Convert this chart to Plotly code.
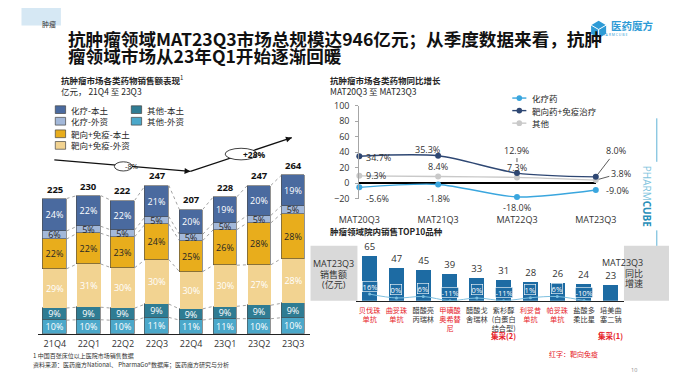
import plotly.graph_objects as go

# ---------------- data ----------------
quarters = ["21Q4", "22Q1", "22Q2", "22Q3", "22Q4", "23Q1", "23Q2", "23Q3"]
quarter_totals = [225, 230, 222, 247, 207, 228, 247, 264]
other_foreign_pct = [10, 10, 10, 11, 11, 11, 10, 10]
other_local_pct = [9, 9, 9, 9, 9, 9, 9, 9]
ti_foreign_pct = [29, 31, 30, 30, 30, 30, 27, 28]
ti_local_pct = [22, 22, 23, 24, 25, 26, 28, 28]
chemo_foreign_pct = [6, 5, 5, 5, 5, 5, 5, 5]
chemo_local_pct = [24, 22, 22, 21, 20, 19, 20, 19]

mat_periods = ["MAT20Q3", "MAT21Q3", "MAT22Q3", "MAT23Q3"]
growth_chemo = [-5.6, -1.8, -18.0, -9.0]
growth_target = [34.7, 35.3, 12.9, 8.0]
growth_other = [9.3, 8.4, 7.3, 3.8]

top10_drugs = ["贝伐珠单抗", "曲妥珠单抗", "醋酸亮丙瑞林", "甲磺酸奥希替尼", "醋酸戈舍瑞林",
               "紫杉醇(白蛋白结合型)", "利妥昔单抗", "帕妥珠单抗", "盐酸多柔比星", "培美曲塞二钠"]
top10_label_lines = [["贝伐珠", "单抗"], ["曲妥珠", "单抗"], ["醋酸亮", "丙瑞林"], ["甲磺酸", "奥希替", "尼"],
                     ["醋酸戈", "舍瑞林"], ["紫杉醇", "(白蛋白", "结合型)"], ["利妥昔", "单抗"],
                     ["帕妥珠", "单抗"], ["盐酸多", "柔比星"], ["培美曲", "塞二钠"]]
top10_sales = [65, 47, 45, 39, 33, 31, 28, 26, 24, 23]
top10_growth = [16, 0, 6, -11, 0, -11, 1, 6, -10, -24]
top10_targeted = [1, 1, 0, 1, 0, 0, 1, 1, 0, 0]
vbp_notes = {5: "集采(2)", 9: "集采(1)"}

# ---------------- helpers ----------------
# page body has an 8px margin: the figure sits at (8, 8) and fills the rest of the window
OX, OY = 8, 8
FW, FH = 690 - OX, 388 - OY
def px(x): return (x - OX) / FW
def py(y): return 1 - (y - OY) / FH

FONT = "Open Sans, Noto Sans CJK SC, sans-serif"
CJK = "Noto Sans CJK SC, sans-serif"
RED = "#E62129"
DARK = "#262626"

fig = go.Figure()
shapes = []
ann = []

# ---------------- left stacked bars ----------------
series = [
    ("其他-外资", other_foreign_pct, "#4BA8CA", "white", 0.6),
    ("其他-本土", other_local_pct, "#2F7C93", "white", 0.6),
    ("靶向+免疫-外资", ti_foreign_pct, "#F2D391", "white", 0.0),
    ("靶向+免疫-本土", ti_local_pct, "#E8AD1C", DARK, 0.6),
    ("化疗-外资", chemo_foreign_pct, "#A3B8D9", DARK, 0.6),
    ("化疗-本土", chemo_local_pct, "#4A6A9F", "white", 0.6),
]
n = len(quarters)
xs = list(range(n))
sums = [sum(s[1][i] for s in series) for i in range(n)]
bw = 0.69
cum = [[0.0] * n]
for name, pcts, color, tcol, lw in series:
    seg = [quarter_totals[i] * pcts[i] / sums[i] for i in range(n)]
    cum.append([cum[-1][i] + seg[i] for i in range(n)])
    fig.add_trace(go.Bar(
        x=xs, y=seg, width=bw, name=name,
        marker=dict(color=color, line=dict(color="#4a4a4a", width=lw)),
        text=[f"{p}%" for p in pcts], textposition="inside", insidetextanchor="middle",
        textangle=0, constraintext="none", textfont=dict(size=9, color=tcol, family=FONT),
        xaxis="x", yaxis="y", showlegend=False, hoverinfo="skip"))

# connectors between bars
for k in range(1, len(cum)):
    for i in range(n - 1):
        shapes.append(dict(type="line", xref="x", yref="y",
                           x0=i + bw / 2, y0=cum[k][i], x1=i + 1 - bw / 2, y1=cum[k][i + 1],
                           line=dict(color="#8a8a8a", width=0.8, dash="dot")))
# totals
for i, t in enumerate(quarter_totals):
    ann.append(dict(x=i, y=t, xref="x", yref="y", text=f"<b>{t}</b>", showarrow=False,
                    yanchor="bottom", yshift=1, font=dict(size=9.5, color="#111", family=FONT)))

# legend (left)
leg_items = [
    (series[5][0], series[5][2], 36, 106), (series[4][0], series[4][2], 36, 118),
    (series[3][0], series[3][2], 36, 131), (series[2][0], series[2][2], 36, 143),
    (series[1][0], series[1][2], 117, 106), (series[0][0], series[0][2], 117, 118),
]
for name, color, x0, yc in leg_items:
    shapes.append(dict(type="rect", xref="paper", yref="paper", x0=px(x0), x1=px(x0 + 11),
                       y0=py(yc + 4), y1=py(yc - 4), fillcolor=color, line=dict(color="#444", width=0.7)))
    ann.append(dict(x=px(x0 + 15), y=py(yc), xref="paper", yref="paper", text=name, showarrow=False,
                    xanchor="left", yanchor="middle", font=dict(size=8.5, color=DARK, family=CJK)))

# titles (left)
ann.append(dict(x=px(40), y=py(75), xref="paper", yref="paper", text="<b>抗肿瘤市场各类药物销售额表现</b><sup>1</sup>",
                showarrow=False, xanchor="left", yanchor="middle", font=dict(size=8.5, color=DARK, family=CJK)))
ann.append(dict(x=px(40), y=py(86.5), xref="paper", yref="paper", text="亿元， 21Q4 至 23Q3",
                showarrow=False, xanchor="left", yanchor="middle", font=dict(size=8.5, color=DARK, family=CJK)))

# trend arrows: lines as shapes, small arrowheads as annotations, ellipses on top
for (x0, y0), (x1, y1) in [((35, 158), (180, 170)), ((180, 170), (288, 135))]:
    shapes.append(dict(type="line", xref="paper", yref="paper", x0=px(x0), y0=py(y0), x1=px(x1), y1=py(y1),
                       line=dict(color="#111", width=1.3)))
    dx, dy = x1 - x0, y1 - y0
    L = (dx * dx + dy * dy) ** 0.5
    ann.append(dict(x=px(x1), y=py(y1), xref="paper", yref="paper", ax=-dx / L * 8, ay=-dy / L * 8,
                    axref="pixel", ayref="pixel", text=" ", showarrow=True, arrowhead=2, arrowsize=0.9,
                    arrowwidth=1.3, arrowcolor="#111"))
shapes.append(dict(type="circle", xref="paper", yref="paper", x0=px(99), x1=px(118), y0=py(169.5), y1=py(160),
                   fillcolor="white", line=dict(color="#111", width=0.8)))
shapes.append(dict(type="circle", xref="paper", yref="paper", x0=px(217), x1=px(251), y0=py(158), y1=py(146),
                   fillcolor="white", line=dict(color="#111", width=0.8)))
ann.append(dict(x=px(108.5), y=py(164.8), xref="paper", yref="paper", text="-8%", showarrow=False,
                font=dict(size=7.5, color="#111", family=FONT)))
ann.append(dict(x=px(234), y=py(152), xref="paper", yref="paper", text="<b>+28%</b>", showarrow=False,
                font=dict(size=8.5, color="#111", family=FONT)))

# ---------------- line chart (top right) ----------------
line_series = [
    ("其他", growth_other, "#C9C9C9"),
    ("靶向药+免疫治疗", growth_target, "#2E4773"),
    ("化疗药", growth_chemo, "#3AA6DE"),
]
mx = list(range(len(mat_periods)))
for name, vals, color in line_series:
    fig.add_trace(go.Scatter(x=mx, y=vals, mode="lines+markers", name=name,
                             line=dict(color=color, width=1.4, shape="spline", smoothing=0.8),
                             marker=dict(size=6, color=color), cliponaxis=False,
                             xaxis="x2", yaxis="y2", showlegend=False, hoverinfo="skip"))

def lab(x, y, text, **kw):
    d = dict(x=x, y=y, xref="x2", yref="y2", text=text, showarrow=False,
             font=dict(size=9, color="#333", family=FONT))
    d.update(kw)
    ann.append(d)

f = lambda v: f"{v:.1f}%"
# targeted
lab(0, growth_target[0], f(growth_target[0]), xanchor="left", xshift=5, yshift=-1)
lab(1, growth_target[1], f(growth_target[1]), xshift=-11, yshift=6)
lab(2, growth_target[2], f(growth_target[2]), showarrow=True, ax=0, ay=-23, arrowhead=0,
    arrowwidth=0.8, arrowcolor="#333", standoff=11)
lab(3, growth_target[3], f(growth_target[3]), showarrow=True, ax=20, ay=-26, arrowhead=0,
    arrowwidth=0.8, arrowcolor="#333", standoff=3)
# other
lab(0, growth_other[0], f(growth_other[0]), xanchor="left", xshift=5, yshift=0)
lab(1, growth_other[1], f(growth_other[1]), yshift=10)
lab(2, growth_other[2], f(growth_other[2]), yshift=10)
lab(3, growth_other[3], f(growth_other[3]), showarrow=True, ax=25, ay=-7, arrowhead=0,
    arrowwidth=0.8, arrowcolor="#333", standoff=3)
# chemo
lab(0, growth_chemo[0], f(growth_chemo[0]), xanchor="left", xshift=5, yshift=-11)
lab(1, growth_chemo[1], f(growth_chemo[1]), yshift=-14)
lab(2, growth_chemo[2], f(growth_chemo[2]), yshift=-11)
lab(3, growth_chemo[3], f(growth_chemo[3]), xanchor="left", xshift=8, yshift=0)

# legend (line chart)
for (name, vals, color), yc in zip([line_series[2], line_series[1], line_series[0]], [94, 107, 120]):
    shapes.append(dict(type="line", xref="paper", yref="paper", x0=px(523), x1=px(538), y0=py(yc), y1=py(yc),
                       line=dict(color=color, width=1.4)))
    shapes.append(dict(type="circle", xref="paper", yref="paper", x0=px(527.5), x1=px(533.5),
                       y0=py(yc + 3), y1=py(yc - 3), fillcolor=color, line=dict(width=0)))
    ann.append(dict(x=px(542), y=py(yc), xref="paper", yref="paper", text=name, showarrow=False,
                    xanchor="left", yanchor="middle", font=dict(size=8.5, color=DARK, family=CJK)))

ann.append(dict(x=px(327), y=py(75), xref="paper", yref="paper", text="<b>抗肿瘤市场各类药物同比增长</b>",
                showarrow=False, xanchor="left", yanchor="middle", font=dict(size=8.5, color=DARK, family=CJK)))
ann.append(dict(x=px(327), y=py(86.5), xref="paper", yref="paper", text="MAT20Q3 至 MAT23Q3",
                showarrow=False, xanchor="left", yanchor="middle", font=dict(size=8.5, color=DARK, family=CJK)))

# ---------------- top 10 (bottom right) ----------------
bar_blue = "#1D6BA3"
tx = list(range(len(top10_drugs)))
fig.add_trace(go.Bar(x=tx, y=top10_sales, width=0.56, marker=dict(color=bar_blue, line=dict(width=0)),
                     text=[str(v) for v in top10_sales], textposition="outside", cliponaxis=False,
                     textfont=dict(size=9.5, color="#333", family=FONT),
                     xaxis="x3", yaxis="y3", showlegend=False, hoverinfo="skip"))
fig.add_trace(go.Scatter(x=tx, y=top10_growth, mode="lines+markers",
                         line=dict(color="#7DBFDF", width=1, shape="spline"),
                         marker=dict(size=3, color="#7DBFDF"), cliponaxis=False,
                         xaxis="x3", yaxis="y4", showlegend=False, hoverinfo="skip"))
for i, g in enumerate(top10_growth):
    ann.append(dict(x=i, y=g, xref="x3", yref="y4", text=f"{g}%", showarrow=False, yshift=8,
                    bgcolor=bar_blue, bordercolor="white", borderwidth=0.6, borderpad=0,
                    font=dict(size=7.5, color="white", family=FONT)))

tick_text = []
for lines, tgt in zip(top10_label_lines, top10_targeted):
    col = RED if tgt else "#333"
    tick_text.append("<br>".join(f'<span style="color:{col}">{l}</span>' for l in lines))

for i, note in vbp_notes.items():
    ann.append(dict(x=i, y=py(347.5), xref="x3", yref="paper", text=f"<b>{note}</b>", showarrow=False,
                    font=dict(size=7.5, color=RED, family=CJK)))

# gray side boxes
shapes.append(dict(type="rect", xref="paper", yref="paper", x0=px(308), x1=px(358), y0=py(304), y1=py(247),
                   fillcolor="#D9D9D9", line=dict(width=0), layer="below"))
shapes.append(dict(type="rect", xref="paper", yref="paper", x0=px(642), x1=px(690), y0=py(304), y1=py(247),
                   fillcolor="#D9D9D9", line=dict(width=0), layer="below"))
for t, yc in zip(["MAT23Q3", "销售额", "(亿元)"], [274, 285, 296]):
    ann.append(dict(x=px(333), y=py(yc), xref="paper", yref="paper", text=t, showarrow=False,
                    font=dict(size=9, color="#333", family=FONT)))
for t, yc in zip(["MAT23Q3", "同比", "增速"], [273, 284, 295]):
    ann.append(dict(x=px(664), y=py(yc), xref="paper", yref="paper", text=t, showarrow=False,
                    font=dict(size=9, color="#333", family=FONT)))

ann.append(dict(x=px(327), y=py(232), xref="paper", yref="paper", text="<b>肿瘤领域院内销售TOP10品种</b>",
                showarrow=False, xanchor="left", yanchor="middle", font=dict(size=8.5, color=DARK, family=CJK)))

# ---------------- header ----------------
shapes.append(dict(type="rect", xref="paper", yref="paper", x0=px(0), x1=px(42), y0=py(19), y1=py(0),
                   fillcolor="#D6E8F4", line=dict(width=0)))
ann.append(dict(x=px(20), y=py(10.5), xref="paper", yref="paper", text="肿瘤", showarrow=False,
                font=dict(size=7, color="#333", family=CJK)))
ann.append(dict(x=px(47), y=py(32), xref="paper", yref="paper", text="<b>抗肿瘤领域MAT23Q3市场总规模达946亿元；从季度数据来看，抗肿</b>",
                showarrow=False, xanchor="left", yanchor="middle", font=dict(size=17.6, color="#111", family=CJK)))
ann.append(dict(x=px(47), y=py(50), xref="paper", yref="paper", text="<b>瘤领域市场从23年Q1开始逐渐回暖</b>",
                showarrow=False, xanchor="left", yanchor="middle", font=dict(size=17.6, color="#111", family=CJK)))

# logo
def path(pts):
    return "M " + " L ".join(f"{px(a):.5f} {py(b):.5f}" for a, b in pts) + " Z"
logo_blue = "#2E9BD6"
shapes.append(dict(type="path", xref="paper", yref="paper",
                   path=path([(615, 14), (623, 18.5), (623, 27.5), (615, 32), (607, 27.5), (607, 18.5)]),
                   fillcolor=logo_blue, line=dict(width=0)))
for a, b in [((615, 23), (607, 18.5)), ((615, 23), (623, 18.5)), ((615, 23), (615, 32))]:
    shapes.append(dict(type="line", xref="paper", yref="paper", x0=px(a[0]), y0=py(a[1]), x1=px(b[0]), y1=py(b[1]),
                       line=dict(color="white", width=1)))
ann.append(dict(x=px(626), y=py(19), xref="paper", yref="paper", text="<b>医药魔方</b>", showarrow=False,
                xanchor="left", yanchor="middle", font=dict(size=10.5, color=logo_blue, family=CJK)))
ann.append(dict(x=px(647), y=py(28.5), xref="paper", yref="paper", text="P H A R M C U B E", showarrow=False,
                yanchor="middle", font=dict(size=3.5, color=logo_blue, family=FONT)))

# vertical watermark
shapes.append(dict(type="line", xref="paper", yref="paper", x0=px(677), x1=px(677), y0=py(115), y1=py(160),
                   line=dict(color="#5FB3D6", width=1)))
shapes.append(dict(type="line", xref="paper", yref="paper", x0=px(677), x1=px(677), y0=py(231), y1=py(247),
                   line=dict(color="#5FB3D6", width=1)))
ann.append(dict(x=px(677), y=py(196), xref="paper", yref="paper", textangle=90, showarrow=False,
                text='<span style="color:#7EC3DD">PHARM</span><b><span style="color:#2A8FB8">CUBE</span></b>',
                font=dict(size=10, family=FONT)))

# footnotes
ann.append(dict(x=px(10), y=py(367), xref="paper", yref="paper", text="1 中国百张床位以上医院市场销售数据",
                showarrow=False, xanchor="left", font=dict(size=6, color="#333", family=CJK)))
ann.append(dict(x=px(10), y=py(377), xref="paper", yref="paper",
                text="资料来源：医药魔方National、 PharmaGo®数据库；医药魔方研究与分析",
                showarrow=False, xanchor="left", font=dict(size=6, color="#333", family=CJK)))
ann.append(dict(x=px(616), y=py(366), xref="paper", yref="paper", text="红字：靶向免疫", showarrow=False,
                font=dict(size=7, color=RED, family=CJK)))
ann.append(dict(x=px(658), y=py(382), xref="paper", yref="paper", text="10", showarrow=False,
                font=dict(size=5.5, color="#888", family=FONT)))

# ---------------- layout ----------------
fig.update_layout(
    width=FW, height=FH, autosize=False, margin=dict(l=0, r=0, t=0, b=0),
    paper_bgcolor="white", plot_bgcolor="rgba(0,0,0,0)",
    font=dict(family=FONT, color="#333"),
    barmode="stack", bargap=0,
    shapes=shapes, annotations=ann,
    xaxis=dict(domain=[px(17.35), px(307.75)], range=[-0.5, 7.5], tickvals=xs, ticktext=quarters,
               showline=True, linecolor="#222", linewidth=1, ticks="", showgrid=False, zeroline=False,
               tickfont=dict(size=9, color="#333"), ticklabelstandoff=1, fixedrange=True),
    yaxis=dict(domain=[py(338), py(160)], range=[0, (338 - 160) / 0.622], visible=False, fixedrange=True),
    xaxis2=dict(domain=[px(360), px(612)], range=[0, 3], anchor="y2", tickvals=mx, ticktext=mat_periods,
                showline=False, ticks="", showgrid=False, zeroline=False,
                tickfont=dict(size=9, color="#333"), ticklabelstandoff=14),
    yaxis2=dict(domain=[py(198), py(102)], range=[-20, 100], anchor="x2", tickvals=[-20, 0, 20, 40, 60, 80, 100],
                ticksuffix="%", showline=True, linecolor="#A6A6A6", linewidth=1, ticks="outside", ticklen=3,
                tickcolor="#A6A6A6", showgrid=False, zeroline=True, zerolinecolor="#000", zerolinewidth=1.6,
                tickfont=dict(size=9, color="#333"), ticklabelstandoff=4),
    xaxis3=dict(domain=[px(356.7), px(642.3)], range=[-0.5, 9.5], anchor="y3", tickvals=tx, ticktext=tick_text,
                showline=True, linecolor="#222", linewidth=1, ticks="", showgrid=False, zeroline=False,
                tickfont=dict(size=7.2, color="#333", family=CJK), ticklabelstandoff=2),
    yaxis3=dict(domain=[py(304), py(248)], range=[0, (304 - 248) / 0.72], anchor="x3", visible=False),
    yaxis4=dict(domain=[py(304), py(248)], range=[-12, 212], anchor="x3", overlaying="y3", visible=False),
)

fig.write_html("out.html", config={"displayModeBar": False})
